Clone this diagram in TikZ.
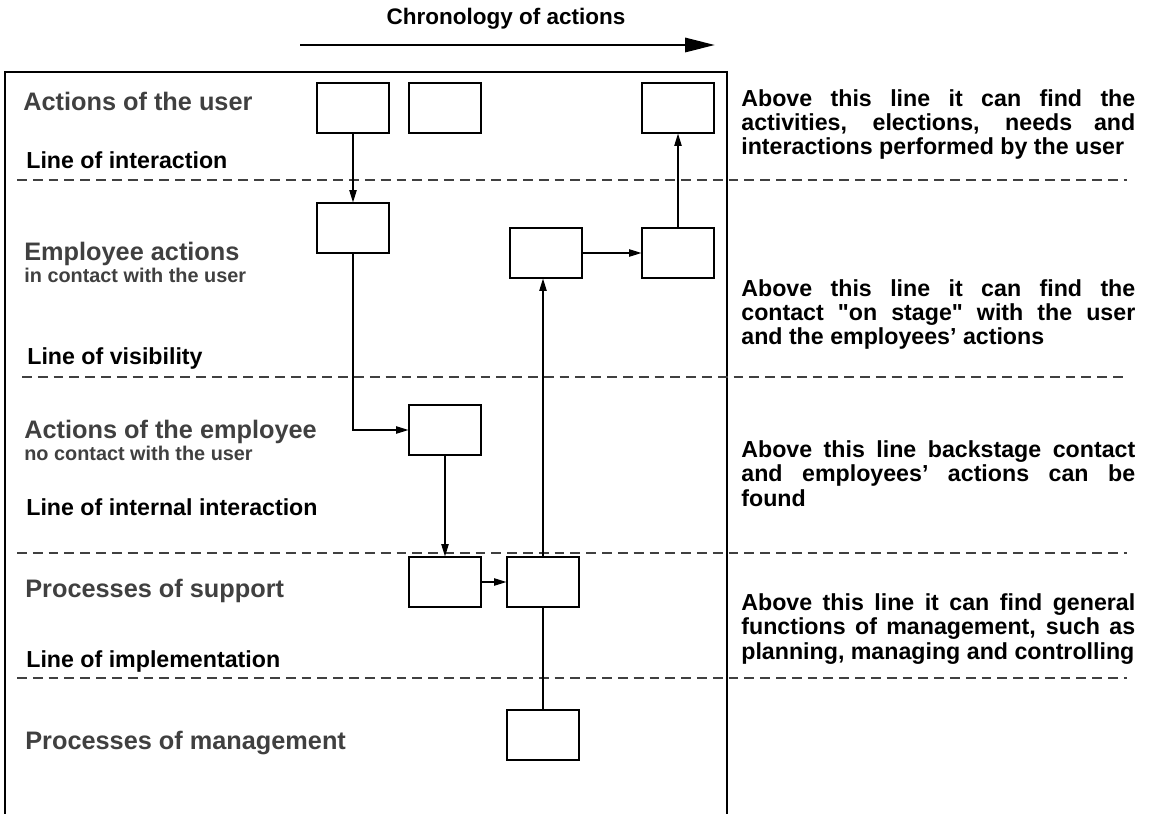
\documentclass[tikz,border=0pt]{standalone}
\usepackage{fontspec}
\setmainfont{Liberation Sans}
\usetikzlibrary{arrows.meta}
\definecolor{lblgray}{gray}{0.25}

\begin{document}
\hyphenpenalty=10000
\begin{tikzpicture}[x=0.02cm,y=-0.02cm,>={Triangle[length=7pt,width=4.2pt]},
    box/.style={draw,line width=0.7pt,minimum width=1.44cm,minimum height=1cm,inner sep=0pt},
    sepline/.style={dash pattern=on 5.6pt off 3.4pt,line width=0.8pt,black!75},
    row/.style={anchor=base west,inner sep=0pt,text=lblgray,font=\bfseries\fontsize{14.4}{16}\selectfont},
    sub/.style={anchor=base west,inner sep=0pt,text=lblgray,font=\bfseries\fontsize{11.3}{13}\selectfont},
    linelbl/.style={anchor=base west,inner sep=0pt,font=\bfseries\fontsize{13.2}{15}\selectfont},
    note/.style={anchor=north west,inner sep=0pt,text width=7.88cm,align=justify,
        font=\bfseries\fontsize{13.2}{13.9}\selectfont}]
    \useasboundingbox (0,0) rectangle (1149,814);

    \node[font=\bfseries\fontsize{12.8}{14}\selectfont] (title) at (506,19) {Chronology of actions};
    \coordinate (t0) at (300,45);
    \coordinate (t1) at (715,45);
    \draw[line width=1.7pt,-{Triangle[length=17pt,width=8pt]}] (t0) -- (t1);

    \draw[line width=1pt] (5,814) -- (5,72) -- (727,72);
    \draw[line width=1.5pt] (727,71) -- (727,814);

    \draw[sepline] (17,180) -- (1127,180);
    \draw[sepline] (22,377) -- (1127,377);
    \draw[sepline] (17,553) -- (1127,553);
    \draw[sepline] (17,678) -- (1127,678);

    \node[row] (r1) at (23,111) {Actions of the user};
    \node[linelbl] (l1) at (26,169) {Line of interaction};
    \node[row] (r2) at (24,260) {Employee actions};
    \node[sub] (r2s) at (24,282) {in contact with the user};
    \node[linelbl] (l2) at (27,364) {Line of visibility};
    \node[row] (r3) at (24,438) {Actions of the employee};
    \node[sub] (r3s) at (24,460) {no contact with the user};
    \node[linelbl] (l3) at (26,515) {Line of internal interaction};
    \node[row] (r4) at (25,597) {Processes of support};
    \node[linelbl] (l4) at (26,667) {Line of implementation};
    \node[row] (r5) at (25,749) {Processes of management};

    \node[note] (n1) at (741,89) {Above this line it can find the\linebreak activities, elections, needs and\linebreak interactions performed by the user};
    \node[note] (n2) at (741,279) {Above this line it can find the\linebreak contact \textquotedbl on stage\textquotedbl{} with the user\linebreak and the employees' actions};
    \node[note] (n3) at (741,440) {Above this line backstage contact\linebreak and employees' actions can be\linebreak found};
    \node[note] (n4) at (741,593) {Above this line it can find general\linebreak functions of management, such as\linebreak planning, managing and controlling};

    \node[box] (u1) at (353,108) {};
    \node[box] (u2) at (445,108) {};
    \node[box] (u3) at (678,108) {};
    \node[box] (e1) at (353,228) {};
    \node[box] (e2) at (546,253) {};
    \node[box] (e3) at (678,253) {};
    \node[box] (b1) at (445,430) {};
    \node[box] (s1) at (445,582) {};
    \node[box] (s2) at (543,582) {};
    \node[box] (m1) at (543,735) {};
    \coordinate (e2in) at (s2 |- e2.south);

    \path[->,line width=0.6pt] (u1) edge (e1)
                               (b1) edge (s1)
                               (s1) edge (s2)
                               (s2) edge (e2in)
                               (e2) edge (e3)
                               (e3) edge (u3);
    \draw[->,line width=0.6pt] (e1) |- (b1);
    \draw[line width=0.6pt] (m1) -- (s2);
\end{tikzpicture}
\end{document}
